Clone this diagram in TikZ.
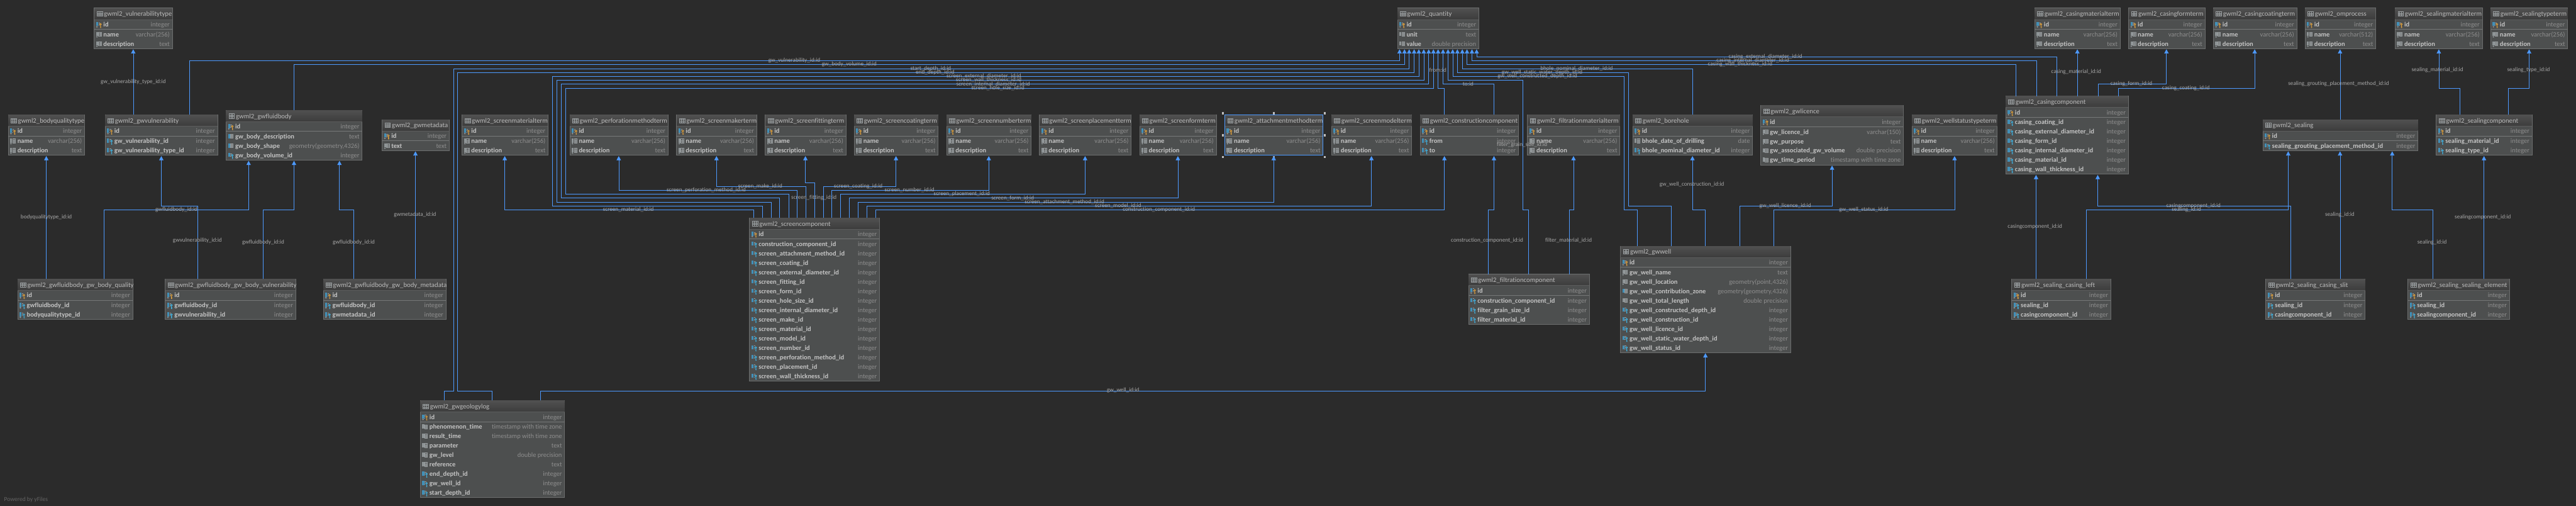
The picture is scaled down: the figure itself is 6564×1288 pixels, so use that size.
\documentclass[tikz,border=0pt]{standalone}
\usepackage{fontspec}
\setmainfont{Carlito}[Ligatures=NoCommon]
\usetikzlibrary{arrows.meta}

\tikzset{every picture/.style={line width=0.75pt}}
\tikzset{
tablebox/.style={draw={rgb, 255:red, 108; green, 110; blue, 110}, fill={rgb, 255:red, 77; green, 79; blue, 79}, anchor=north west, inner sep=0pt, outer sep=0pt},
titlefill/.style={top color={rgb, 255:red, 80; green, 80; blue, 80}, bottom color={rgb, 255:red, 60; green, 60; blue, 60}, draw=none},
titlerule/.style={draw={rgb, 255:red, 92; green, 93; blue, 93}, line width=0.9},
pkrule/.style={draw={rgb, 255:red, 118; green, 120; blue, 120}, line width=1.2},
titletext/.style={anchor=base west, inner sep=0pt, font=\fontsize{12.9}{14}\selectfont, text={rgb, 255:red, 187; green, 187; blue, 187}},
coltext/.style={anchor=base west, inner sep=0pt, font=\fontsize{12.6}{14}\selectfont\bfseries, text={rgb, 255:red, 196; green, 196; blue, 196}},
typetext/.style={anchor=base east, inner sep=0pt, font=\fontsize{12.6}{14}\selectfont, text={rgb, 255:red, 142; green, 142; blue, 142}},
edgetext/.style={anchor=center, inner sep=0pt, font=\fontsize{11}{12}\selectfont, text={rgb, 255:red, 168; green, 168; blue, 168}},
fkline/.style={draw={rgb, 255:red, 77; green, 154; blue, 255}, line width=0.75, shorten >=1.5pt, -{Triangle[width=8.2pt,length=7.9pt]}},
icongrid/.style={draw={rgb, 255:red, 155; green, 160; blue, 162}, line width=0.55},
selectedbox/.style={draw={rgb, 255:red, 77; green, 154; blue, 255}, line width=0.75},
handlebox/.style={fill={rgb, 255:red, 190; green, 190; blue, 190}, inner sep=0pt, outer sep=0pt, minimum size=3.9pt},
}
\definecolor{barblue}{RGB}{66,144,184}
\definecolor{bargray}{RGB}{142,148,150}
\definecolor{keygold}{RGB}{229,163,58}
\definecolor{keycyan}{RGB}{63,183,232}

% pieces of the little icons, #1 = table left, #2 = row centre
\newcommand{\colbar}[3]{\fill[#3] (#1+5,#2-7) rectangle (#1+10,#2+3.5);}
\newcommand{\coldot}[2]{\fill[bargray] (#1+7,#2+5.5) circle (2.1);}
\newcommand{\colgrid}[2]{\draw[icongrid] (#1+11,#2-6.5) rectangle (#1+18,#2+3.5) (#1+14.5,#2-6.5) -- (#1+14.5,#2+3.5) (#1+11,#2-3) -- (#1+18,#2-3) (#1+11,#2+0.3) -- (#1+18,#2+0.3);}
\newcommand{\coldash}[2]{\draw[icongrid] (#1+11,#2-5.5) -- (#1+15,#2-5.5) (#1+11,#2-2) -- (#1+13,#2-2) (#1+11,#2+1.5) -- (#1+13,#2+1.5);}
\newcommand{\colkey}[3]{\draw[#3, line width=1] (#1+16,#2-1) circle (2.2) (#1+16,#2+1.2) -- (#1+16,#2+7.5) -- (#1+18,#2+7.5) (#1+16,#2+4.5) -- (#1+18,#2+4.5);}
\newcommand{\iconpk}[2]{\colbar{#1}{#2}{barblue}\coldot{#1}{#2}\coldash{#1}{#2}\colkey{#1}{#2}{keygold}}
\newcommand{\iconfk}[2]{\colbar{#1}{#2}{barblue}\coldash{#1}{#2}\colkey{#1}{#2}{keycyan}}
\newcommand{\iconfn}[2]{\colbar{#1}{#2}{barblue}\coldot{#1}{#2}\coldash{#1}{#2}\colkey{#1}{#2}{keycyan}}
\newcommand{\iconnn}[2]{\colbar{#1}{#2}{bargray}\coldot{#1}{#2}\colgrid{#1}{#2}}
\newcommand{\iconix}[2]{\colbar{#1}{#2}{barblue}\colgrid{#1}{#2}}
\newcommand{\iconpl}[2]{\colbar{#1}{#2}{bargray}\colgrid{#1}{#2}}

% node name, left, top, width, title, rows (kind/column/type)
\newcommand{\gwtable}[6]{%
\edef\rowlist{#6}
\foreach [count=\n] \a in \rowlist {\global\let\rown\n}
\node [tablebox, minimum width={#4*0.75pt}, minimum height={(31+24*\rown)*0.75pt}] (#1) at (#2,#3) {};
\shade [titlefill] (#2+0.5,#3+0.5) rectangle (#2+#4-0.5,#3+29);
\draw [titlerule] (#2,#3+29) -- (#2+#4,#3+29);
\draw [pkrule] (#2,#3+54) -- (#2+#4,#3+54);
\draw [icongrid] (#2+7,#3+9) rectangle (#2+21,#3+20.5) (#2+11.7,#3+9) -- (#2+11.7,#3+20.5) (#2+16.3,#3+9) -- (#2+16.3,#3+20.5) (#2+7,#3+12.8) -- (#2+21,#3+12.8) (#2+7,#3+16.6) -- (#2+21,#3+16.6);
\node [titletext] (#1title) at (#2+24.5,#3+21) {#5};
\foreach [count=\i] \rk/\rc/\rt in \rowlist {
\pgfmathsetmacro{\ry}{#3+(\i==1 ? 42.3 : 67.8+24*(\i-2))}
\csname icon\rk\endcsname{#2}{\ry}
\node [coltext] (#1col\i) at (#2+23,\ry+5) {\rc};
\node [typetext] (#1type\i) at (#2+#4-6,\ry+5) {\rt};
}
}
\newcommand{\termrows}{pk/id/integer,nn/name/varchar(256),nn/description/text}
\newcommand{\edgelabel}[4]{\node [edgetext] (#1) at (#2,#3) {#4};}

\begin{document}
\catcode`\_=12
\begin{tikzpicture}[x=0.75pt,y=0.75pt,yscale=-1,xscale=1]
\fill [color={rgb, 255:red, 43; green, 43; blue, 43}, use as bounding box] (0,0) rectangle (6564,1288);

%Shape: Tables, top row
\gwtable{vulnerabilitytype}{240}{20.5}{199}{gwml2_vulnerabilitytype}{\termrows}
\gwtable{quantity}{3560.6}{20.5}{207.4}{gwml2_quantity}{pk/id/integer,pl/unit/text,pl/value/double precision}
\gwtable{casingmaterialterm}{5184.6}{20.5}{217.6}{gwml2_casingmaterialterm}{\termrows}
\gwtable{casingformterm}{5423.8}{20.5}{194.5}{gwml2_casingformterm}{\termrows}
\gwtable{casingcoatingterm}{5639.8}{20.5}{212.3}{gwml2_casingcoatingterm}{\termrows}
\gwtable{omprocess}{5873.6}{20.5}{179.7}{gwml2_omprocess}{pk/id/integer,nn/name/varchar(512),nn/description/text}
\gwtable{sealingmaterialterm}{6103}{20.5}{222}{gwml2_sealingmaterialterm}{\termrows}
\gwtable{sealingtypeterm}{6346.5}{20.5}{196}{gwml2_sealingtypeterm}{\termrows}

%Shape: Tables, middle row
\gwtable{bodyqualitytype}{21}{292.4}{194.4}{gwml2_bodyqualitytype}{\termrows}
\gwtable{gwvulnerability}{268}{292.4}{286.2}{gwml2_gwvulnerability}{pk/id/integer,fk/gw_vulnerability_id/integer,fk/gw_vulnerability_type_id/integer}
\gwtable{gwfluidbody}{576}{280.5}{346.5}{gwml2_gwfluidbody}{pk/id/integer,ix/gw_body_description/text,ix/gw_body_shape/{geometry(geometry,4326)},fk/gw_body_volume_id/integer}
\gwtable{gwmetadata}{973.7}{304.3}{170.8}{gwml2_gwmetadata}{pk/id/integer,nn/text/text}
\gwtable{screenmaterialterm}{1177.5}{292.4}{218.9}{gwml2_screenmaterialterm}{\termrows}
\gwtable{perforationmethodterm}{1451.8}{292.4}{250.4}{gwml2_perforationmethodterm}{\termrows}
\gwtable{screenmakerterm}{1724}{292.4}{204}{gwml2_screenmakerterm}{\termrows}
\gwtable{screenfittingterm}{1949.8}{292.4}{205.6}{gwml2_screenfittingterm}{\termrows}
\gwtable{screencoatingterm}{2176.5}{292.4}{213.9}{gwml2_screencoatingterm}{\termrows}
\gwtable{screennumberterm}{2411.5}{292.4}{216}{gwml2_screennumberterm}{\termrows}
\gwtable{screenplacementterm}{2648.6}{292.4}{233.6}{gwml2_screenplacementterm}{\termrows}
\gwtable{screenformterm}{2903.9}{292.4}{195.1}{gwml2_screenformterm}{\termrows}
\gwtable{attachmentmethodterm}{3120.7}{292.4}{250.5}{gwml2_attachmentmethodterm}{\termrows}
\gwtable{screenmodelterm}{3392.9}{292.4}{204.1}{gwml2_screenmodelterm}{\termrows}
\gwtable{constructioncomponent}{3618.8}{292.4}{250.4}{gwml2_constructioncomponent}{pk/id/integer,fk/from/integer,fk/to/integer}
\gwtable{filtrationmaterialterm}{3891.7}{292.4}{235.7}{gwml2_filtrationmaterialterm}{\termrows}
\gwtable{borehole}{4160.4}{292.4}{305.2}{gwml2_borehole}{pk/id/integer,pl/bhole_date_of_drilling/date,fk/bhole_nominal_diameter_id/integer}
\gwtable{gwlicence}{4486.6}{268.6}{363.4}{gwml2_gwlicence}{pk/id/integer,nn/gw_licence_id/varchar(150),nn/gw_purpose/text,pl/gw_associated_gw_volume/double precision,pl/gw_time_period/timestamp with time zone}
\gwtable{wellstatustypeterm}{4871.7}{292.4}{217.5}{gwml2_wellstatustypeterm}{\termrows}
\gwtable{casingcomponent}{5110.9}{244.4}{312.1}{gwml2_casingcomponent}{pk/id/integer,fk/casing_coating_id/integer,fk/casing_external_diameter_id/integer,fk/casing_form_id/integer,fk/casing_internal_diameter_id/integer,fk/casing_material_id/integer,fk/casing_wall_thickness_id/integer}
\gwtable{sealing}{5766}{304.3}{395}{gwml2_sealing}{pk/id/integer,fk/sealing_grouting_placement_method_id/integer}
\gwtable{sealingcomponent}{6207.7}{292.4}{244.3}{gwml2_sealingcomponent}{pk/id/integer,fk/sealing_material_id/integer,fk/sealing_type_id/integer}

%Shape: Tables, lower rows
\gwtable{screencomponent}{1909.8}{554.4}{331.2}{gwml2_screencomponent}{pk/id/integer,fk/construction_component_id/integer,fk/screen_attachment_method_id/integer,fk/screen_coating_id/integer,fk/screen_external_diameter_id/integer,fk/screen_fitting_id/integer,fk/screen_form_id/integer,fk/screen_hole_size_id/integer,fk/screen_internal_diameter_id/integer,fk/screen_make_id/integer,fk/screen_material_id/integer,fk/screen_model_id/integer,fk/screen_number_id/integer,fk/screen_perforation_method_id/integer,fk/screen_placement_id/integer,fk/screen_wall_thickness_id/integer}
\gwtable{gwwell}{4128.8}{626.3}{433.6}{gwml2_gwwell}{pk/id/integer,nn/gw_well_name/text,nn/gw_well_location/{geometry(point,4326)},ix/gw_well_contribution_zone/{geometry(geometry,4326)},pl/gw_well_total_length/double precision,fk/gw_well_constructed_depth_id/integer,fk/gw_well_construction_id/integer,fk/gw_well_licence_id/integer,fk/gw_well_static_water_depth_id/integer,fk/gw_well_status_id/integer}
\gwtable{filtrationcomponent}{3741.6}{698.2}{307.9}{gwml2_filtrationcomponent}{pk/id/integer,fk/construction_component_id/integer,fk/filter_grain_size_id/integer,fk/filter_material_id/integer}
\gwtable{bodyquality}{44.9}{710.5}{293.2}{gwml2_gwfluidbody_gw_body_quality}{pk/id/integer,fn/gwfluidbody_id/integer,fn/bodyqualitytype_id/integer}
\gwtable{bodyvulnerability}{420.9}{710.5}{332.5}{gwml2_gwfluidbody_gw_body_vulnerability}{pk/id/integer,fn/gwfluidbody_id/integer,fn/gwvulnerability_id/integer}
\gwtable{bodymetadata}{823.6}{710.5}{312.5}{gwml2_gwfluidbody_gw_body_metadata}{pk/id/integer,fn/gwfluidbody_id/integer,fn/gwmetadata_id/integer}
\gwtable{casingleft}{5125.7}{710.5}{252.5}{gwml2_sealing_casing_left}{pk/id/integer,fn/sealing_id/integer,fn/casingcomponent_id/integer}
\gwtable{casingslit}{5773.4}{710.5}{253.2}{gwml2_sealing_casing_slit}{pk/id/integer,fn/sealing_id/integer,fn/casingcomponent_id/integer}
\gwtable{sealingelement}{6135.7}{710.5}{258.3}{gwml2_sealing_sealing_element}{pk/id/integer,fn/sealing_id/integer,fn/sealingcomponent_id/integer}
\gwtable{geologylog}{1070.9}{1020}{367.5}{gwml2_gwgeologylog}{pk/id/integer,pl/phenomenon_time/timestamp with time zone,pl/result_time/timestamp with time zone,pl/parameter/text,pl/gw_level/double precision,pl/reference/text,fk/end_depth_id/integer,fk/gw_well_id/integer,fk/start_depth_id/integer}

%Shape: selected table and its handles
\draw [selectedbox] (attachmentmethodterm.north west) rectangle (attachmentmethodterm.south east);
\node [handlebox] (handlea) at (3116.5,288.3) {};
\node [handlebox] (handleb) at (3246,288.3) {};
\node [handlebox] (handlec) at (3376,288.3) {};
\node [handlebox] (handled) at (3116.5,344.5) {};
\node [handlebox] (handlee) at (3376,344.5) {};
\node [handlebox] (handlef) at (3116.5,400.4) {};
\node [handlebox] (handleg) at (3246,400.4) {};
\node [handlebox] (handleh) at (3376,400.4) {};

%Straight Lines: into gwml2_quantity
\draw [fkline] (gwvulnerability.north -| 483.3,0) -- (483.3,154.4) -- (3566.2,154.4) -- (quantity.south -| 3566.2,0);
\draw [fkline] (gwfluidbody.north -| 749.2,0) -- (749.2,164.3) -- (3578.8,164.3) -- (quantity.south -| 3578.8,0);
\draw [fkline] (geologylog.north -| 1131.2,0) -- (1131.2,995.5) -- (1155.7,995.5) -- (1155.7,174.5) -- (3590.7,174.5) -- (quantity.south -| 3590.7,0);
\draw [fkline] (geologylog.north -| 1254,0) -- (1254,995.5) -- (1166.3,995.5) -- (1166.3,184.4) -- (3603.4,184.4) -- (quantity.south -| 3603.4,0);
\draw [fkline] (screencomponent.north -| 1942.8,0) -- (1942.8,524.4) -- (1407.6,524.4) -- (1407.6,194.3) -- (3615.3,194.3) -- (quantity.south -| 3615.3,0);
\draw [fkline] (screencomponent.north -| 1964.6,0) -- (1964.6,514.6) -- (1418.8,514.6) -- (1418.8,204.5) -- (3627.9,204.5) -- (quantity.south -| 3627.9,0);
\draw [fkline] (screencomponent.north -| 1986.3,0) -- (1986.3,504.3) -- (1429.3,504.3) -- (1429.3,214.4) -- (3640.5,214.4) -- (quantity.south -| 3640.5,0);
\draw [fkline] (screencomponent.north -| 2009.5,0) -- (2009.5,494.4) -- (1440.5,494.4) -- (1440.5,224.2) -- (3652.5,224.2) -- (quantity.south -| 3652.5,0);
\draw [fkline] (constructioncomponent.north -| 3680.5,0) -- (3680.5,224.2) -- (3664.4,224.2) -- (quantity.south -| 3664.4,0);
\draw [fkline] (constructioncomponent.north -| 3806.1,0) -- (3806.1,214.4) -- (3677,214.4) -- (quantity.south -| 3677,0);
\draw [fkline] (filtrationcomponent.north -| 3895.2,0) -- (3895.2,534.3) -- (3880.5,534.3) -- (3880.5,204.5) -- (3689.7,204.5) -- (quantity.south -| 3689.7,0);
\draw [fkline] (gwwell.north -| 4171.6,0) -- (4171.6,534.3) -- (4138.6,534.3) -- (4138.6,194.3) -- (3701.6,194.3) -- (quantity.south -| 3701.6,0);
\draw [fkline] (gwwell.north -| 4258.6,0) -- (4258.6,524.4) -- (4149.2,524.4) -- (4149.2,184.4) -- (3713.5,184.4) -- (quantity.south -| 3713.5,0);
\draw [fkline] (borehole.north -| 4312.6,0) -- (4312.6,174.5) -- (3726.1,174.5) -- (quantity.south -| 3726.1,0);
\draw [fkline] (casingcomponent.north -| 5136.2,0) -- (5136.2,164.3) -- (3738,164.3) -- (quantity.south -| 3738,0);
\draw [fkline] (casingcomponent.north -| 5188.8,0) -- (5188.8,154.4) -- (3750.7,154.4) -- (quantity.south -| 3750.7,0);
\draw [fkline] (casingcomponent.north -| 5240,0) -- (5240,144.6) -- (3762.6,144.6) -- (quantity.south -| 3762.6,0);

%Straight Lines: fluid body side
\draw [fkline] (gwvulnerability.north -| 339.5,0) -- (vulnerabilitytype.south -| 339.5,0);
\draw [fkline] (bodyquality.north -| 118,0) -- (bodyqualitytype.south -| 118,0);
\draw [fkline] (bodyvulnerability.north -| 503,0) -- (503,524.4) -- (411,524.4) -- (gwvulnerability.south -| 411,0);
\draw [fkline] (bodyquality.north -| 265.2,0) -- (265.2,534.3) -- (633.5,534.3) -- (gwfluidbody.south -| 633.5,0);
\draw [fkline] (bodyvulnerability.north -| 670,0) -- (670,534.3) -- (749.2,534.3) -- (gwfluidbody.south -| 749.2,0);
\draw [fkline] (bodymetadata.north -| 901.5,0) -- (901.5,534.3) -- (865,534.3) -- (gwfluidbody.south -| 865,0);
\draw [fkline] (bodymetadata.north -| 1058.6,0) -- (gwmetadata.south -| 1058.6,0);

%Straight Lines: screen terms
\draw [fkline] (screencomponent.north -| 1920.4,0) -- (1920.4,534.3) -- (1286.2,534.3) -- (screenmaterialterm.south -| 1286.2,0);
\draw [fkline] (screencomponent.north -| 2031.2,0) -- (2031.2,484.6) -- (1576.6,484.6) -- (perforationmethodterm.south -| 1576.6,0);
\draw [fkline] (screencomponent.north -| 2053,0) -- (2053,474.3) -- (1825.7,474.3) -- (screenmakerterm.south -| 1825.7,0);
\draw [fkline] (screencomponent.north -| 2075.4,0) -- (2075.4,464.5) -- (2052.3,464.5) -- (screenfittingterm.south -| 2052.3,0);
\draw [fkline] (screencomponent.north -| 2097.9,0) -- (2097.9,474.3) -- (2283.1,474.3) -- (screencoatingterm.south -| 2283.1,0);
\draw [fkline] (screencomponent.north -| 2119.6,0) -- (2119.6,484.6) -- (2519.5,484.6) -- (screennumberterm.south -| 2519.5,0);
\draw [fkline] (screencomponent.north -| 2141.4,0) -- (2141.4,494.4) -- (2765,494.4) -- (screenplacementterm.south -| 2765,0);
\draw [fkline] (screencomponent.north -| 2163.8,0) -- (2163.8,504.3) -- (3001.4,504.3) -- (screenformterm.south -| 3001.4,0);
\draw [fkline] (screencomponent.north -| 2186.3,0) -- (2186.3,514.6) -- (3245.6,514.6) -- (attachmentmethodterm.south -| 3245.6,0);
\draw [fkline] (screencomponent.north -| 2208.7,0) -- (2208.7,524.4) -- (3494.6,524.4) -- (screenmodelterm.south -| 3494.6,0);
\draw [fkline] (screencomponent.north -| 2230.5,0) -- (2230.5,534.3) -- (3680.5,534.3) -- (constructioncomponent.south -| 3680.5,0);

%Straight Lines: well, filtration, casing and sealing
\draw [fkline] (filtrationcomponent.north -| 3792,0) -- (3792,534.3) -- (3806.8,534.3) -- (constructioncomponent.south -| 3806.8,0);
\draw [fkline] (filtrationcomponent.north -| 3998.3,0) -- (3998.3,534.3) -- (4009.5,534.3) -- (filtrationmaterialterm.south -| 4009.5,0);
\draw [fkline] (gwwell.north -| 4345.6,0) -- (4345.6,534.3) -- (4312.6,534.3) -- (borehole.south -| 4312.6,0);
\draw [fkline] (gwwell.north -| 4432.6,0) -- (4432.6,524.4) -- (4668.3,524.4) -- (gwlicence.south -| 4668.3,0);
\draw [fkline] (gwwell.north -| 4519.6,0) -- (4519.6,534.3) -- (4980.5,534.3) -- (wellstatustypeterm.south -| 4980.5,0);
\draw [fkline] (geologylog.north -| 1377.4,0) -- (1377.4,995.5) -- (4345.6,995.5) -- (gwwell.south -| 4345.6,0);
\draw [fkline] (casingcomponent.north -| 5293.3,0) -- (casingmaterialterm.south -| 5293.3,0);
\draw [fkline] (casingcomponent.north -| 5345.9,0) -- (5345.9,214.4) -- (5520.3,214.4) -- (casingformterm.south -| 5520.3,0);
\draw [fkline] (casingcomponent.north -| 5397.9,0) -- (5397.9,224.2) -- (5745.2,224.2) -- (casingcoatingterm.south -| 5745.2,0);
\draw [fkline] (casingleft.north -| 5188.1,0) -- (casingcomponent.south -| 5188.1,0);
\draw [fkline] (casingslit.north -| 5836.5,0) -- (5836.5,524.4) -- (5345.2,524.4) -- (casingcomponent.south -| 5345.2,0);
\draw [fkline] (casingleft.north -| 5315.8,0) -- (5315.8,534.3) -- (5830.6,534.3) -- (sealing.south -| 5830.6,0);
\draw [fkline] (casingslit.north -| 5962.7,0) -- (sealing.south -| 5962.7,0);
\draw [fkline] (sealingelement.north -| 6199.6,0) -- (6199.6,534.3) -- (6095.6,534.3) -- (sealing.south -| 6095.6,0);
\draw [fkline] (sealingelement.north -| 6329.5,0) -- (sealingcomponent.south -| 6329.5,0);
\draw [fkline] (sealing.north -| 5962.7,0) -- (omprocess.south -| 5962.7,0);
\draw [fkline] (sealingcomponent.north -| 6268.6,0) -- (6268.6,224.2) -- (6214.4,224.2) -- (sealingmaterialterm.south -| 6214.4,0);
\draw [fkline] (sealingcomponent.north -| 6391.8,0) -- (6391.8,224.2) -- (6444.5,224.2) -- (sealingtypeterm.south -| 6444.5,0);

% Text Node
\edgelabel{lbvulnid}{2024}{154}{gw_vulnerability_id:id}
\edgelabel{lbvolume}{2164}{164}{gw_body_volume_id:id}
\edgelabel{lbstart}{2371.7}{174}{start_depth_id:id}
\edgelabel{lbend}{2382.9}{184}{end_depth_id:id}
\edgelabel{lbscrext}{2507}{194}{screen_external_diameter_id:id}
\edgelabel{lbscrwall}{2519.5}{204}{screen_wall_thickness_id:id}
\edgelabel{lbscrint}{2530.7}{214}{screen_internal_diameter_id:id}
\edgelabel{lbscrhole}{2542.7}{224}{screen_hole_size_id:id}
\edgelabel{lbfrom}{3663.7}{178.6}{from:id}
\edgelabel{lbto}{3740.9}{214}{to:id}
\edgelabel{lbgrain}{3878.4}{368.4}{filter_grain_size_id:id}
\edgelabel{lbconstructed}{3917.6}{194}{gw_well_constructed_depth_id:id}
\edgelabel{lbstatic}{3929.6}{184}{gw_well_static_water_depth_id:id}
\edgelabel{lbbhole}{4017.3}{174}{bhole_nominal_diameter_id:id}
\edgelabel{lbcaswall}{4434}{164}{casing_wall_thickness_id:id}
\edgelabel{lbcasint}{4466.3}{154}{casing_internal_diameter_id:id}
\edgelabel{lbcasext}{4498.5}{144}{casing_external_diameter_id:id}
\edgelabel{lbvulntype}{339.5}{207.8}{gw_vulnerability_type_id:id}
\edgelabel{lbqualtype}{118}{552.8}{bodyqualitytype_id:id}
\edgelabel{lbgwvuln}{503}{612.7}{gwvulnerability_id:id}
\edgelabel{lbfluida}{449.7}{534}{gwfluidbody_id:id}
\edgelabel{lbfluidb}{670.6}{617.3}{gwfluidbody_id:id}
\edgelabel{lbfluidc}{901.5}{617.3}{gwfluidbody_id:id}
\edgelabel{lbmeta}{1057.5}{546.6}{gwmetadata_id:id}
\edgelabel{lbscrmat}{1601.2}{534}{screen_material_id:id}
\edgelabel{lbscrperf}{1799.7}{484}{screen_perforation_method_id:id}
\edgelabel{lbscrmake}{1937.2}{474}{screen_make_id:id}
\edgelabel{lbscrfit}{2074}{504}{screen_fitting_id:id}
\edgelabel{lbscrcoat}{2187}{474}{screen_coating_id:id}
\edgelabel{lbscrnum}{2317.5}{484}{screen_number_id:id}
\edgelabel{lbscrplace}{2450.8}{494}{screen_placement_id:id}
\edgelabel{lbscrform}{2580.5}{504}{screen_form_id:id}
\edgelabel{lbscrattach}{2712.4}{514}{screen_attachment_method_id:id}
\edgelabel{lbscrmodel}{2849.2}{524}{screen_model_id:id}
\edgelabel{lbscrcons}{2953}{534}{construction_component_id:id}
\edgelabel{lbfiltcons}{3789.3}{611.5}{construction_component_id:id}
\edgelabel{lbfiltmat}{3996.9}{611.5}{filter_material_id:id}
\edgelabel{lbwellcons}{4311}{469.4}{gw_well_construction_id:id}
\edgelabel{lblicence}{4549}{524}{gw_well_licence_id:id}
\edgelabel{lbstatus}{4749}{534}{gw_well_status_id:id}
\edgelabel{lbwell}{2861.8}{994.3}{gw_well_id:id}
\edgelabel{lbcasmat}{5290.5}{183.6}{casing_material_id:id}
\edgelabel{lbcasform}{5431}{214}{casing_form_id:id}
\edgelabel{lbcascoat}{5570}{224}{casing_coating_id:id}
\edgelabel{lbcompa}{5185.3}{576.6}{casingcomponent_id:id}
\edgelabel{lbcompb}{5589.3}{524}{casingcomponent_id:id}
\edgelabel{lbseala}{5571.5}{534}{sealing_id:id}
\edgelabel{lbsealb}{5962}{546.6}{sealing_id:id}
\edgelabel{lbsealc}{6197.3}{617.3}{sealing_id:id}
\edgelabel{lbsealcomp}{6326.5}{552.8}{sealingcomponent_id:id}
\edgelabel{lbgrout}{5959}{213.6}{sealing_grouting_placement_method_id:id}
\edgelabel{lbsealmat}{6210.7}{178.6}{sealing_material_id:id}
\edgelabel{lbsealtype}{6443}{178.6}{sealing_type_id:id}
\node [anchor=base west, inner sep=0pt, font=\fontsize{11.5}{12}\selectfont, text={rgb, 255:red, 100; green, 100; blue, 100}] (poweredby) at (10,1276) {Powered by yFiles};

\end{tikzpicture}
\end{document}
